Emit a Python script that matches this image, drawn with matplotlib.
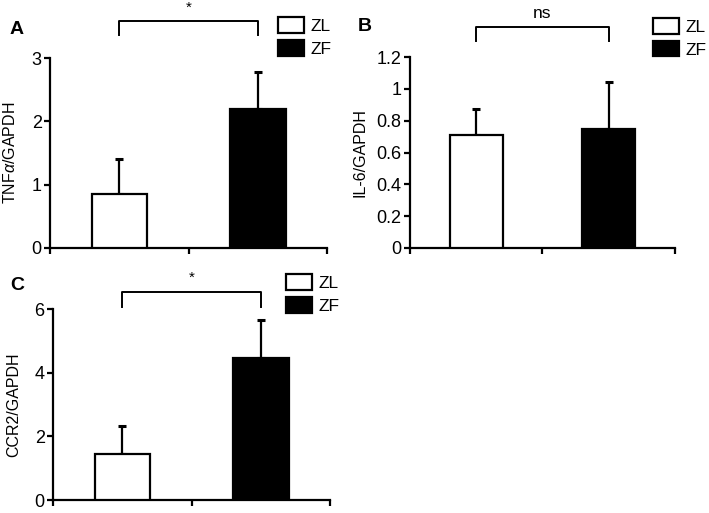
import matplotlib
matplotlib.use("Agg")
import matplotlib.pyplot as plt
from matplotlib.patches import Patch

plt.rcParams['font.family'] = ['Liberation Sans', 'DejaVu Sans']
plt.rcParams['mathtext.fontset'] = 'custom'
plt.rcParams['mathtext.it'] = 'Liberation Sans:italic'

groups = ['ZL', 'ZF']
bar_colors = ['white', 'black']

# values (mean, upper error)
tnf_mean = [0.86, 2.20]
tnf_err = [0.55, 0.58]
il6_mean = [0.71, 0.75]
il6_err = [0.165, 0.295]
ccr2_mean = [1.46, 4.46]
ccr2_err = [0.86, 1.20]

tnf_ticks = [0, 1, 2, 3]
il6_ticks = [0, 0.2, 0.4, 0.6, 0.8, 1.0, 1.2]
il6_ticklabels = ['0', '0.2', '0.4', '0.6', '0.8', '1', '1.2']
ccr2_ticks = [0, 2, 4, 6]

fig = plt.figure(figsize=(7.09, 5.13), dpi=100)

def panel(rect, means, errs, yticks, yticklabels, ylabel, label_x, sig,
          br_top, br_bot, leg_xy):
    ax = fig.add_axes(rect)
    xs = [0.5, 1.5]
    ax.bar(xs, means, width=0.4, color=bar_colors, edgecolor='black',
           linewidth=1.6, zorder=3)
    for x, m, e in zip(xs, means, errs):
        ax.errorbar(x, m, yerr=[[0], [e]], color='black', elinewidth=1.6,
                    capsize=3, capthick=2.2, zorder=2)
    ax.set_xlim(0, 2)
    ax.set_ylim(yticks[0], yticks[-1])
    ax.set_xticks([0, 1, 2])
    ax.set_xticklabels([])
    ax.set_yticks(yticks)
    ax.set_yticklabels(yticklabels)
    for s in ['top', 'right']:
        ax.spines[s].set_visible(False)
    for s in ['left', 'bottom']:
        ax.spines[s].set_linewidth(1.6)
    ax.tick_params(direction='out', length=4, width=1.6, labelsize=13, pad=2)
    ax.set_ylabel(ylabel, fontsize=11.5)
    ax.yaxis.set_label_coords(label_x, 0.5)
    # significance bracket
    ax.plot([0.5, 0.5, 1.5, 1.5], [br_bot, br_top, br_top, br_bot],
            color='black', linewidth=1.4, clip_on=False)
    if sig == '*':
        ax.annotate(sig, (1.0, br_top), xytext=(0, 5), textcoords='offset points',
                    ha='center', va='bottom', fontsize=11, annotation_clip=False)
    else:
        ax.annotate(sig, (1.0, br_top), xytext=(0, 4), textcoords='offset points',
                    ha='center', va='bottom', fontsize=12.5, annotation_clip=False)
    handles = [Patch(facecolor=c, edgecolor='black', linewidth=1.6)
               for c in bar_colors]
    ax.legend(handles, groups, loc='upper left', bbox_to_anchor=leg_xy,
              frameon=False, fontsize=12.5, handlelength=1.5,
              handleheight=1.0, handletextpad=0.35, labelspacing=0.35,
              borderpad=0, borderaxespad=0)
    return ax

panel([0.0705, 0.5166, 0.391, 0.370], tnf_mean, tnf_err, tnf_ticks,
      [str(t) for t in tnf_ticks], 'TNF$\\mathit{\\alpha}$/GAPDH', -0.115,
      '*', 3.58, 3.36, (0.823, 1.215))
panel([0.578, 0.5166, 0.374, 0.372], il6_mean, il6_err, il6_ticks,
      il6_ticklabels, 'IL-6/GAPDH', -0.158,
      'ns', 1.39, 1.30, (0.917, 1.205))
panel([0.0748, 0.0253, 0.391, 0.372], ccr2_mean, ccr2_err, ccr2_ticks,
      [str(t) for t in ccr2_ticks], 'CCR2/GAPDH', -0.115,
      '*', 6.54, 6.06, (0.841, 1.183))

fig.text(10 / 709, 1 - 30 / 513, 'A', fontsize=14, fontweight='bold', va='center')
fig.text(358 / 709, 1 - 27 / 513, 'B', fontsize=14, fontweight='bold', va='center')
fig.text(10 / 709, 1 - 285 / 513, 'C', fontsize=14, fontweight='bold', va='center')

fig.savefig('out.png', dpi=100)
